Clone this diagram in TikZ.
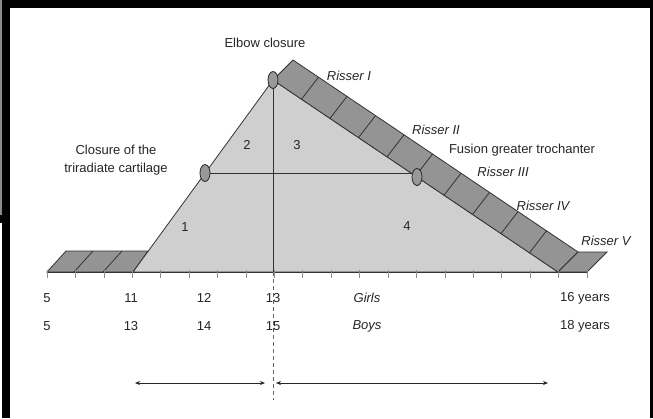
\documentclass[tikz,border=0pt]{standalone}
\usepackage{fontspec}
\setmainfont{Liberation Sans}
\usetikzlibrary{shapes.geometric,arrows.meta}
\begin{document}
\begin{tikzpicture}[x=1pt,y=-1pt,
  lbl/.style={font=\fontsize{13}{15}\selectfont, text=black!85, inner sep=0pt},
  ris/.style={font=\fontsize{13}{15}\selectfont\itshape, text=black!85, inner sep=0pt},
  edgeln/.style={draw=black!80, line width=0.8pt},
  lightfill/.style={fill=black!19},
  darkfill/.style={fill=black!42},
  ell/.style={ellipse, draw=black!85, fill=black!40, line width=0.8pt, minimum width=10pt, minimum height=17pt, inner sep=0pt},
  tickln/.style={draw=black!45, line width=0.6pt},
  dimarrow/.style={draw=black!85, line width=0.7pt, {Stealth[length=5pt,width=4pt]}-{Stealth[length=5pt,width=4pt]}},
  ]
% frame
\fill[black] (0,0) rectangle (653,418);
\fill[white] (10,8) rectangle (650,418);
\fill[black!45] (0,0) rectangle (2,215);
\fill[white] (0,223) rectangle (2,418);
\useasboundingbox (0,0) rectangle (653,418);

% key points
\coordinate (apex) at (273,80);
\coordinate (br) at (558,272);
\coordinate (bl) at (133,272);
\coordinate (axL) at (47,272);
\coordinate (axR) at (587,272);
\coordinate (ax13) at (273,272);
\coordinate (dashEnd) at (273,400);
\coordinate (triC) at (205,173);
\coordinate (trochC) at (417,177);

% left strip
\filldraw[darkfill, edgeln] (47,272) -- (133,272) -- (148,251) -- (66,251) -- cycle;
\draw[edgeln] (74,272) -- (93,251);
\draw[edgeln] (103,272) -- (122,251);

% main triangle
\filldraw[lightfill, edgeln] (bl) -- (apex) -- (br) -- cycle;

% Risser band
\filldraw[darkfill, edgeln] (apex) -- (br) -- (578,252) -- (293,60) -- cycle;
\foreach \k in {1,...,9} {
  \draw[edgeln] (273+28.5*\k, 80+19.2*\k) -- (290+28.5*\k, 58+19.2*\k);
}
% Risser V strip
\filldraw[darkfill, edgeln] (br) -- (587,272) -- (607,252) -- (578,252) -- cycle;

% axis and ticks
\draw[edgeln] (axL) -- (axR);
\foreach \k in {0,...,19} {
  \draw[tickln] (47+28.42*\k,270) -- (47+28.42*\k,278);
}

% connectors
\draw[edgeln] (triC) -- (triC -| trochC);
\draw[edgeln] (apex) -- (ax13);
\draw[draw=black!60, line width=0.6pt, dash pattern=on 4pt off 3pt] (ax13) -- (dashEnd);

% ellipses
\node[ell] (elbow) at (apex) {};
\node[ell] (tri) at (triC) {};
\node[ell] (troch) at (trochC) {};

% labels
\node[lbl] (tElbow) at (265,43) {Elbow closure};
\node[ris] (r1) at (349,76) {Risser I};
\node[ris] (r2) at (436,130) {Risser II};
\node[lbl] (tFus) at (522,150) {Fusion greater trochanter};
\node[ris] (r3) at (503,172) {Risser III};
\node[ris] (r4) at (543,206) {Risser IV};
\node[ris] (r5) at (606,241) {Risser V};
\node[lbl, align=center] (tTri) at (116,160) {Closure of the\\[3pt]triradiate cartilage};
\node[lbl] (n1) at (185,227) {1};
\node[lbl] (n2) at (247,145) {2};
\node[lbl] (n3) at (297,145) {3};
\node[lbl] (n4) at (407,226) {4};

% age rows
\node[lbl] (g5) at (47,298) {5};
\node[lbl] (g11) at (131,298) {11};
\node[lbl] (g12) at (204,298) {12};
\node[lbl] (g13) at (273,298) {13};
\node[ris] (girls) at (367,298) {Girls};
\node[lbl] (g16) at (585,298) {16 years};
\node[lbl] (b5) at (47,326) {5};
\node[lbl] (b13) at (131,326) {13};
\node[lbl] (b14) at (204,326) {14};
\node[lbl] (b15) at (273,326) {15};
\node[ris] (boys) at (367,326) {Boys};
\node[lbl] (b18) at (585,326) {18 years};

% arrows
\coordinate (aL1) at (135,383);
\coordinate (aL2) at (265,383);
\coordinate (aR1) at (276,383);
\coordinate (aR2) at (548,383);
\draw[dimarrow] (aL1) -- (aL2);
\draw[dimarrow] (aR1) -- (aR2);
\end{tikzpicture}
\end{document}
